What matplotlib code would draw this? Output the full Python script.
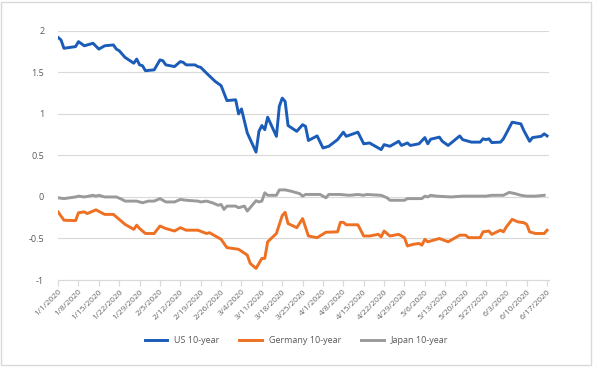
import matplotlib
matplotlib.use("Agg")
import matplotlib.pyplot as plt
import pandas as pd

plt.rcParams['font.family'] = ['Open Sans', 'DejaVu Sans']

start = pd.Timestamp("2020-01-01")

# days after 1/1/2020
us_days = [0, 1, 2, 6, 7, 9, 12, 14, 16, 19, 20, 21, 23, 26, 27, 28, 29, 30, 33, 35,
           36, 37, 40, 42, 43, 44, 47, 48, 49, 51, 54, 56, 58, 61, 62, 63, 65, 68, 69, 70,
           71, 72, 75, 76, 77, 78, 79, 82, 84, 85, 86, 89, 91, 93, 96, 98, 99, 103, 105, 107,
           110, 111, 112, 114, 117, 118, 120, 121, 124, 126, 127, 128, 131, 132, 134, 138, 139, 142, 145, 146,
           147, 148, 149, 152, 153, 156, 159, 160, 162, 163, 166, 167, 168]
us_yield = [1.92, 1.89, 1.79, 1.81, 1.87, 1.82, 1.85, 1.78, 1.82, 1.83, 1.78, 1.76, 1.68, 1.61, 1.66, 1.59, 1.58, 1.52, 1.53, 1.65,
            1.64, 1.59, 1.57, 1.63, 1.62, 1.59, 1.59, 1.57, 1.56, 1.49, 1.39, 1.34, 1.16, 1.17, 1.00, 1.06, 0.77, 0.54, 0.79, 0.86,
            0.81, 0.96, 0.73, 1.09, 1.19, 1.15, 0.86, 0.79, 0.87, 0.85, 0.68, 0.735, 0.59, 0.61, 0.69, 0.78, 0.73, 0.78, 0.64, 0.65,
            0.59, 0.57, 0.63, 0.61, 0.67, 0.62, 0.65, 0.62, 0.64, 0.715, 0.64, 0.695, 0.72, 0.67, 0.62, 0.735, 0.69, 0.66, 0.66, 0.70,
            0.69, 0.70, 0.655, 0.66, 0.70, 0.90, 0.88, 0.80, 0.67, 0.715, 0.73, 0.76, 0.735]

de_days = [0, 2, 6, 7, 9, 10, 13, 16, 19, 20, 21, 23, 26, 27, 28, 30, 33, 35, 37, 40,
           42, 44, 48, 51, 52, 54, 56, 58, 62, 65, 66, 68, 70, 71, 72, 75, 77, 78, 79, 82,
           84, 86, 89, 92, 96, 97, 98, 99, 103, 105, 107, 110, 111, 112, 114, 117, 119, 120, 122, 124,
           125, 126, 127, 131, 134, 138, 140, 141, 145, 146, 148, 149, 152, 153, 154, 156, 158, 160, 161, 162,
           164, 167, 168]
de_yield = [-0.18, -0.28, -0.285, -0.19, -0.18, -0.20, -0.155, -0.21, -0.21, -0.24, -0.27, -0.33, -0.39, -0.34, -0.38, -0.44, -0.44, -0.35, -0.38, -0.41,
            -0.37, -0.40, -0.40, -0.44, -0.43, -0.47, -0.51, -0.61, -0.63, -0.70, -0.80, -0.86, -0.74, -0.74, -0.54, -0.44, -0.225, -0.185, -0.32, -0.37,
            -0.26, -0.47, -0.49, -0.425, -0.42, -0.305, -0.305, -0.335, -0.335, -0.47, -0.47, -0.45, -0.48, -0.41, -0.47, -0.45, -0.49, -0.59, -0.57, -0.56,
            -0.58, -0.51, -0.54, -0.50, -0.54, -0.46, -0.46, -0.49, -0.49, -0.42, -0.41, -0.45, -0.40, -0.42, -0.36, -0.27, -0.30, -0.31, -0.33, -0.42,
            -0.44, -0.44, -0.40]

jp_days = [0, 2, 6, 7, 9, 12, 13, 14, 16, 20, 22, 23, 27, 29, 31, 33, 35, 37, 40, 42,
           44, 48, 49, 51, 53, 55, 56, 57, 58, 61, 62, 64, 65, 68, 69, 70, 71, 72, 75, 76,
           78, 80, 82, 83, 84, 85, 90, 92, 93, 97, 100, 103, 105, 106, 111, 113, 114, 119, 120, 125,
           126, 127, 128, 130, 135, 139, 147, 149, 153, 155, 157, 159, 161, 164, 167]
jp_yield = [-0.01, -0.02, 0.0, 0.01, 0.0, 0.02, 0.01, 0.02, 0.0, 0.0, -0.03, -0.05, -0.05, -0.07, -0.05, -0.05, -0.02, -0.06, -0.06, -0.03,
            -0.04, -0.05, -0.06, -0.05, -0.07, -0.10, -0.09, -0.15, -0.11, -0.11, -0.13, -0.11, -0.17, -0.045, -0.06, -0.05, 0.05, 0.02, 0.02, 0.085,
            0.085, 0.07, 0.05, 0.04, 0.01, 0.03, 0.03, -0.01, 0.03, 0.03, 0.02, 0.03, 0.02, 0.03, 0.02, -0.01, -0.04, -0.04, -0.02, -0.02,
            0.01, 0.0, 0.02, 0.01, 0.0, 0.01, 0.01, 0.02, 0.02, 0.055, 0.04, 0.02, 0.01, 0.01, 0.02]

series = [
    ("US 10-year", us_days, us_yield, "#1a5cb8"),
    ("Germany 10-year", de_days, de_yield, "#ee7022"),
    ("Japan 10-year", jp_days, jp_yield, "#9a9a9a"),
]

fig = plt.figure(figsize=(5.93, 3.67), dpi=100)
ax = fig.add_axes([0.098, 0.237, 0.828, 0.679])

for name, days, vals, color in series:
    dates = start + pd.to_timedelta(days, unit="D")
    ax.plot(dates, vals, color=color, lw=2.1, label=name, solid_joinstyle="round")

tick_dates = [start + pd.Timedelta(days=7 * k) for k in range(25)]
ax.set_xticks(tick_dates)
ax.set_xticklabels([f"{d.month}/{d.day}/{d.year}" for d in tick_dates],
                   rotation=45, ha="right", rotation_mode="anchor",
                   fontsize=6, color="#6a6a6a")
ax.set_xlim(start, start + pd.Timedelta(days=168.7))

ax.set_ylim(-1, 2)
ax.set_yticks([-1, -0.5, 0, 0.5, 1, 1.5, 2])
ax.set_yticklabels(["-1", "-0.5", "0", "0.5", "1", "1.5", "2"], fontsize=6.5, color="#595959")
ax.yaxis.grid(True, color="#d9d9d9", lw=0.8)
ax.set_axisbelow(True)

for s in ["top", "right", "left"]:
    ax.spines[s].set_visible(False)
ax.spines["bottom"].set_color("#d9d9d9")
ax.tick_params(axis="y", length=0, pad=10)
ax.tick_params(axis="x", length=4, color="#d9d9d9", pad=2)

fig.legend(loc="center", bbox_to_anchor=(0.5, 0.073), ncol=3, frameon=False,
           fontsize=6.5, labelcolor="#595959", handlelength=2.5, columnspacing=2.2)

fig.patches.append(plt.Rectangle((0.002, 0.005), 0.994, 0.99, transform=fig.transFigure,
                                 fill=False, edgecolor="#d9d9d9", lw=1))

fig.savefig("out.png", dpi=100)
